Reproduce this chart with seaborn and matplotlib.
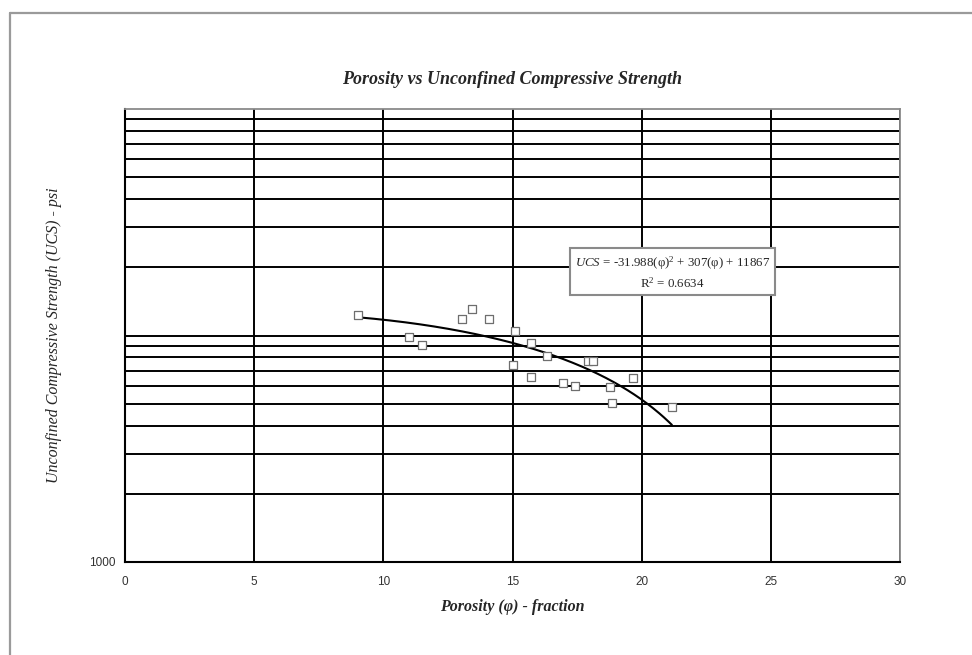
import numpy as np
import pandas as pd
import matplotlib
matplotlib.use("Agg")
import matplotlib.pyplot as plt
import seaborn as sns
from matplotlib.ticker import FixedLocator, LogLocator, FuncFormatter, NullFormatter
from matplotlib.lines import Line2D
from matplotlib.patches import Rectangle

# Core samples: porosity (%) and unconfined compressive strength (psi)
porosity = [9.03, 11.01, 11.51, 13.06, 13.42, 14.08, 15.09, 15.71, 15.01, 15.72,
            16.32, 17.94, 18.13, 16.97, 17.43, 18.78, 19.68, 18.84, 21.17]
ucs = [12360, 9880, 9080, 11830, 13130, 11830, 10500, 9290, 7410, 6560,
       8090, 7720, 7720, 6170, 5960, 5900, 6470, 5040, 4830]

# Polynomial trendline (2nd order) reported on the chart
coef_a, coef_b, coef_c = -31.988, 307, 11867
r_squared = 0.6634

x_ticks = [0, 5, 10, 15, 20, 25, 30]
y_label_ticks = [1000]

sns.set_theme(style="white")
plt.rcParams["font.family"] = ["Liberation Sans", "DejaVu Sans"]
plt.rcParams["mathtext.fontset"] = "custom"
plt.rcParams["mathtext.rm"] = "Liberation Serif"
plt.rcParams["mathtext.it"] = "Liberation Serif:italic"

W, H = 972, 655
fig = plt.figure(figsize=(W / 100, H / 100), dpi=100)
fig.patch.set_facecolor("white")

# outer chart-area frame (top and left edges)
fig.add_artist(Line2D([10 / W, 1.0], [1 - 13 / H, 1 - 13 / H], color="#9a9a9a", lw=1.6,
                      transform=fig.transFigure))
fig.add_artist(Line2D([10 / W, 10 / W], [1 - 13 / H, 0], color="#9a9a9a", lw=1.6,
                      transform=fig.transFigure))

ax = fig.add_axes([125 / W, 1 - 562 / H, 775 / W, 453 / H])
ax.set_facecolor("white")

df = pd.DataFrame({"porosity": porosity, "ucs": ucs})

# trendline evaluated from the reported coefficients over the data range
phi = np.linspace(min(porosity), max(porosity), 200)
trend = pd.DataFrame({"phi": phi, "fit": coef_a * phi ** 2 + coef_b * phi + coef_c})
sns.lineplot(data=trend, x="phi", y="fit", ax=ax, color="black", lw=1.5, zorder=3)

sns.scatterplot(data=df, x="porosity", y="ucs", ax=ax, marker="s", s=26,
                facecolor="white", edgecolor="#6e6e6e", linewidth=0.9, zorder=4)

ax.set_yscale("log")
ax.set_xlim(0, 30)
ax.set_ylim(1000, 100000)

ax.xaxis.set_major_locator(FixedLocator(x_ticks))
ax.yaxis.set_major_locator(FixedLocator([1000, 10000]))
ax.yaxis.set_minor_locator(LogLocator(base=10, subs=np.arange(2, 10)))
ax.yaxis.set_major_formatter(FuncFormatter(lambda v, p: f"{int(v)}" if v in y_label_ticks else ""))
ax.yaxis.set_minor_formatter(NullFormatter())

ax.grid(True, which="major", axis="x", color="black", lw=1.4)
ax.grid(True, which="both", axis="y", color="black", lw=1.4)
ax.set_axisbelow(True)

ax.tick_params(axis="both", which="both", length=0)
ax.tick_params(axis="y", pad=7, labelsize=8.5, labelcolor="#333333")
ax.tick_params(axis="x", pad=10, labelsize=8.5, labelcolor="#333333")

for side in ["left", "bottom"]:
    ax.spines[side].set_color("black")
    ax.spines[side].set_linewidth(1.5)
for side in ["top", "right"]:
    ax.spines[side].set_color("#8a8a8a")
    ax.spines[side].set_linewidth(1.3)
    ax.spines[side].set_visible(True)

ax.set_xlabel("")
ax.set_ylabel("")

serif = ["Liberation Serif", "DejaVu Serif"]

fig.text(512.5 / W, 1 - 80 / H, "Porosity vs Unconfined Compressive Strength",
         family=serif, style="italic", weight="bold", size=13, ha="center", va="center")
fig.text(512.5 / W, 1 - 607 / H, "Porosity (\u03c6) - fraction",
         family=serif, style="italic", weight="bold", size=11.5, ha="center", va="center")
fig.text(54 / W, 1 - 335 / H, "Unconfined Compressive Strength (UCS) - psi",
         family=serif, style="italic", size=11.5, ha="center", va="center", rotation=90)

# trendline equation box
fig.add_artist(Rectangle((570 / W, 1 - 295 / H), 205 / W, 47 / H, transform=fig.transFigure,
                         facecolor="white", edgecolor="#8a8a8a", lw=1.5, zorder=5))
fig.text(672.5 / W, 1 - 263 / H,
         "$\\mathit{UCS}$ = -31.988(\u03c6)$^{2}$ + 307(\u03c6) + 11867",
         family=serif, size=9.3, ha="center", va="center", zorder=6)
fig.text(672.5 / W, 1 - 283 / H, f"R$^{{2}}$ = {r_squared}",
         family=serif, size=9.3, ha="center", va="center", zorder=6)

fig.savefig("out.png", dpi=100, facecolor="white")
